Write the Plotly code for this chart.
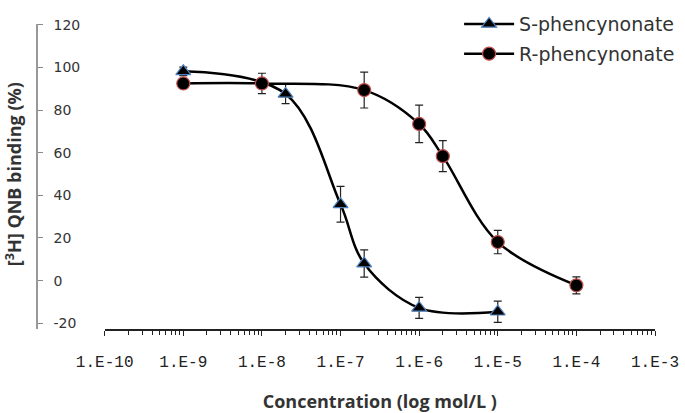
import plotly.graph_objects as go

# ---- data ----
s_conc = [1e-9, 2e-8, 1e-7, 2e-7, 1e-6, 1e-5]
s_bind = [98.2, 87.6, 35.8, 8.0, -12.8, -14.6]
s_err = [2.0, 4.6, 8.4, 6.4, 4.9, 5.0]

r_conc = [1e-9, 1e-8, 2e-7, 1e-6, 2e-6, 1e-5, 1e-4]
r_bind = [92.5, 92.5, 89.4, 73.5, 58.4, 18.1, -2.2]
r_err = [2.0, 4.8, 8.4, 8.8, 7.3, 5.5, 4.0]

x_tickvals = [1e-10, 1e-9, 1e-8, 1e-7, 1e-6, 1e-5, 1e-4, 1e-3]
x_ticktext = ["1.E-10", "1.E-9", "1.E-8", "1.E-7", "1.E-6", "1.E-5", "1.E-4", "1.E-3"]
x_minor = [m * d for d in x_tickvals[:-1] for m in range(2, 10)]
y_tickvals = [-20, 0, 20, 40, 60, 80, 100, 120]
y_ticktext = ["-20", "0", "20", "40", "60", "80", "100", "120"]

x_title = "Concentration (log mol/L )"
y_title = "[<sup>3</sup>H] QNB binding (%)"

fig = go.Figure()
fig.add_trace(go.Scatter(
    x=s_conc, y=s_bind, name="S-phencynonate", legendgroup="s",
    mode="lines+markers",
    line=dict(color="black", width=2.5, shape="spline", smoothing=1),
    marker=dict(symbol="triangle-up", size=13, color="black",
                line=dict(color="#4F81BD", width=1.2)),
    error_y=dict(type="data", array=s_err, color="#222222", thickness=1.2, width=4),
))
fig.add_trace(go.Scatter(
    x=r_conc, y=r_bind, name="R-phencynonate", legendgroup="r",
    mode="lines+markers",
    line=dict(color="black", width=2.5, shape="spline", smoothing=1),
    marker=dict(symbol="circle", size=13, color="black",
                line=dict(color="#C0504D", width=1.2)),
    error_y=dict(type="data", array=r_err, color="#222222", thickness=1.2, width=4),
))

fig.add_annotation(
    text=y_title, xref="paper", yref="paper", x=-0.038, y=0.506,
    xanchor="center", yanchor="middle", textangle=-90, showarrow=False,
    font=dict(family="Open Sans", size=18, color="#333333", weight="bold"),
)

fig.update_layout(
    width=685, height=413,
    margin=dict(l=37, r=27, t=5, b=84),
    paper_bgcolor="white", plot_bgcolor="white",
    showlegend=True,
    legend=dict(x=0.683, y=1.062, xanchor="left", yanchor="top",
                font=dict(family="DejaVu Sans", size=19, color="#333333"),
                tracegroupgap=2, itemwidth=50, bgcolor="rgba(0,0,0,0)"),
    xaxis=dict(
        type="log", range=[-10, -3], domain=[0.1095, 1],
        tickmode="array", tickvals=x_tickvals, ticktext=x_ticktext,
        ticks="outside", ticklen=5, tickcolor="#222222", tickwidth=1,
        minor=dict(tickmode="array", tickvals=x_minor, ticks="outside",
                   ticklen=4, tickcolor="#222222", tickwidth=1),
        showline=True, linecolor="#222222", linewidth=1.5,
        showgrid=False, zeroline=False,
        tickfont=dict(family="Liberation Mono", size=16, color="#222222"),
        ticklabelstandoff=12,
        title=dict(text=x_title,
                   font=dict(family="Open Sans", size=18, color="#333333", weight="bold"),
                   standoff=26),
        automargin=False,
    ),
    yaxis=dict(
        range=[-22.7, 120.4], anchor="free", position=0, side="right",
        tickmode="array", tickvals=y_tickvals, ticktext=y_ticktext,
        ticks="outside", ticklen=5, tickcolor="#888888", tickwidth=1,
        showline=True, linecolor="#999999", linewidth=1.5,
        showgrid=False, zeroline=False,
        tickfont=dict(family="DejaVu Sans", size=14, color="#333333"),
        ticklabelstandoff=8,
        automargin=False,
    ),
)

fig.write_html("out.html", config={"displayModeBar": False},
               post_script="document.body.style.margin='0';")
